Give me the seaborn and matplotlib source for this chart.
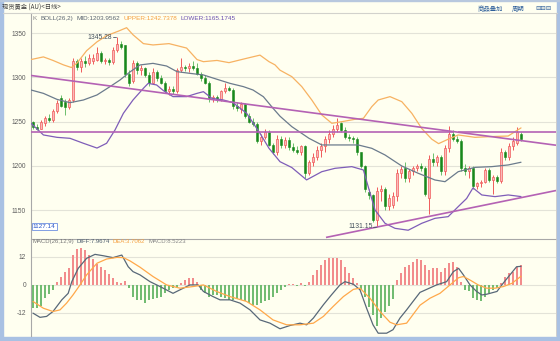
import numpy as np
import matplotlib
matplotlib.use("Agg")
import matplotlib.pyplot as plt
import seaborn as sns
from matplotlib.patches import Rectangle
from matplotlib.lines import Line2D

# ---- daily candles: open / high / low / close ----
opens = [1249, 1244, 1242, 1248, 1254, 1252, 1262, 1276, 1272, 1266,
         1274, 1318, 1312, 1318, 1316, 1318, 1320, 1327, 1318, 1319,
         1317, 1331, 1338, 1336, 1304, 1296, 1316, 1308, 1310, 1303,
         1294, 1306, 1299, 1294, 1284, 1287, 1284, 1308, 1312, 1310,
         1313, 1311, 1304, 1299, 1294, 1276, 1278, 1275, 1284, 1288,
         1286, 1268, 1264, 1270, 1256, 1250, 1247, 1228, 1232, 1238,
         1224, 1215, 1230, 1224, 1229, 1221, 1218, 1216, 1222, 1192,
         1204, 1210, 1218, 1222, 1230, 1236, 1242, 1248, 1240, 1232,
         1231, 1230, 1215, 1200, 1170, 1167, 1139, 1172, 1174, 1154,
         1156, 1166, 1192, 1198, 1186, 1194, 1198, 1200, 1198, 1164,
         1208, 1204, 1210, 1194, 1220, 1236, 1230, 1228, 1197, 1194,
         1198, 1177, 1180, 1182, 1195, 1184, 1187, 1183, 1216, 1210,
         1222, 1226, 1236]
highs = [1251, 1247, 1252, 1256, 1258, 1264, 1274, 1280, 1275, 1276,
         1322, 1321, 1322, 1324, 1326, 1326, 1334, 1330, 1322, 1322,
         1334, 1345.28, 1341, 1337, 1308, 1320, 1318, 1314, 1312, 1306,
         1310, 1308, 1302, 1296, 1290, 1290, 1310, 1322, 1314, 1316,
         1318, 1316, 1306, 1302, 1296, 1280, 1280, 1286, 1293, 1290,
         1288, 1272, 1272, 1271, 1260, 1254, 1250, 1236, 1242, 1240,
         1226, 1235, 1234, 1232, 1233, 1226, 1222, 1224, 1224, 1206,
         1214, 1222, 1226, 1234, 1240, 1246, 1254, 1250, 1244, 1236,
         1234, 1232, 1216, 1201, 1174, 1168, 1176, 1178, 1176, 1168,
         1170, 1196, 1200, 1204, 1196, 1200, 1202, 1203, 1200, 1212,
         1214, 1212, 1212, 1224, 1245, 1240, 1234, 1230, 1202, 1200,
         1200, 1182, 1184, 1198, 1197, 1190, 1189, 1220, 1218, 1226,
         1232, 1244, 1238]
lows = [1241, 1240, 1241, 1245, 1250, 1250, 1260, 1266, 1257, 1264,
        1272, 1308, 1306, 1312, 1314, 1315, 1318, 1316, 1315, 1314,
        1315, 1329, 1332, 1300, 1290, 1293, 1304, 1302, 1300, 1290,
        1292, 1296, 1292, 1282, 1280, 1281, 1282, 1306, 1307, 1306,
        1308, 1302, 1296, 1292, 1272, 1272, 1272, 1273, 1282, 1284,
        1264, 1262, 1260, 1254, 1248, 1245, 1226, 1224, 1230, 1222,
        1213, 1212, 1220, 1220, 1218, 1215, 1213, 1212, 1186, 1190,
        1200, 1206, 1210, 1215, 1226, 1232, 1238, 1238, 1230, 1228,
        1226, 1212, 1198, 1170, 1162, 1136, 1131.15, 1160, 1150, 1150,
        1152, 1160, 1186, 1182, 1182, 1190, 1194, 1194, 1166, 1146,
        1200, 1200, 1190, 1190, 1216, 1228, 1226, 1194, 1190, 1186,
        1174, 1174, 1176, 1180, 1182, 1168, 1180, 1180, 1206, 1207,
        1218, 1224, 1228]
closes = [1244, 1242, 1250, 1254, 1252, 1262, 1271, 1268, 1266, 1274,
          1318, 1312, 1318, 1316, 1322, 1322, 1327, 1318, 1319, 1317,
          1331, 1338, 1334, 1304, 1294, 1316, 1308, 1310, 1303, 1294,
          1306, 1299, 1294, 1284, 1287, 1284, 1308, 1312, 1310, 1313,
          1310, 1304, 1299, 1294, 1276, 1278, 1275, 1284, 1288, 1286,
          1268, 1265, 1270, 1256, 1250, 1247, 1228, 1232, 1238, 1224,
          1215, 1230, 1224, 1229, 1221, 1218, 1216, 1222, 1192, 1204,
          1210, 1218, 1222, 1230, 1236, 1242, 1246, 1240, 1232, 1231,
          1230, 1215, 1200, 1174, 1167, 1139, 1172, 1174, 1154, 1164,
          1166, 1192, 1196, 1186, 1194, 1198, 1200, 1197, 1168, 1208,
          1204, 1210, 1194, 1220, 1236, 1230, 1228, 1197, 1194, 1198,
          1177, 1180, 1182, 1195, 1184, 1187, 1183, 1216, 1210, 1222,
          1228, 1238, 1230]

# ---- BOLL(26,2) bands, sampled along the candle index ----
upper_x = [-0.5, 2.6, 5, 7.6, 9.6, 11, 13.4, 16, 18.4, 21.3, 23.4, 25, 27.6,
           30, 34, 38.4, 41, 42.6, 46, 49, 53.4, 56.75, 59, 60.5, 61.75,
           64.7, 67.2, 69.7, 72.2, 74.7, 77.2, 80.5, 82.6, 84.7, 86.3,
           89.25, 92.2, 94.7, 97.2, 99.7, 101.4, 103.8, 106.3, 110.5,
           114.7, 118.8, 120.5, 122]
upper_y = [1320, 1323, 1319, 1314, 1311, 1316, 1330, 1340, 1347, 1352, 1356,
           1348, 1338, 1336.5, 1338, 1333, 1320, 1317.6, 1319, 1316.5,
           1321.4, 1325, 1317.6, 1314, 1308, 1300.7, 1289.4, 1274.3,
           1257.4, 1248, 1249.8, 1252.5, 1253.6, 1266.8, 1274.3, 1278.1,
           1272.4, 1259.3, 1242, 1230, 1225, 1230, 1234.8, 1232.1, 1233,
           1233.6, 1238.5, 1242.7378]
mid_x = [-0.5, 2.6, 6, 9.25, 12.6, 16, 19.25, 21.75, 24.25, 26.75, 30, 33.4,
         36, 39.25, 42.6, 46, 49.25, 52.6, 55, 57.6, 60, 61.75, 64.7, 69,
         72.2, 77.2, 81.3, 84.7, 88, 92.2, 96.3, 100.5, 103, 106.3, 110.5,
         114.7, 118.8, 122]
mid_y = [1285.6, 1281.8, 1275, 1271.3, 1274.3, 1280, 1289.4, 1296.9, 1306,
         1313.9, 1315.7, 1312.7, 1306.3, 1304.4, 1302.6, 1297.7, 1293.1,
         1289.4, 1285.6, 1278, 1265, 1256, 1244.2, 1231, 1223.5, 1223.5,
         1223.5, 1219.7, 1212.2, 1199.7, 1191.5, 1183.9, 1182, 1193.3,
         1198.2, 1199, 1200.9, 1203.9562]
lower_x = [-0.5, 2.6, 6, 9.25, 12.6, 16, 18.4, 20.5, 22.6, 25, 27.6, 28.8,
           30.9, 32.6, 35, 38.4, 41, 42.6, 44.7, 47.6, 50, 53.4, 56.75, 59,
           61.75, 64.7, 68.4, 72.2, 75.5, 79.7, 82.6, 83.8, 85.5, 88, 90.5,
           93.8, 97.2, 100.5, 103.8, 106.3, 108.4, 110, 112.2, 115.5,
           118.8, 122]
lower_y = [1248, 1234.8, 1232.1, 1231, 1225.4, 1220, 1225.4, 1240.4, 1259.3,
           1274.3, 1287.5, 1293.1, 1291.3, 1284.9, 1278.1, 1278.1, 1281.8,
           1283.7, 1276.2, 1274.3, 1271.3, 1259.3, 1236.7, 1219.7, 1204.6,
           1198, 1184, 1193.3, 1197.1, 1199, 1195.2, 1176.4, 1150, 1135,
           1129.3, 1127.14, 1135, 1140.6, 1142.5, 1153.8, 1163, 1175, 1167,
           1165.1, 1167, 1165.1745]

# ---- hand-drawn trend lines (index, price) ----
falling_line = [(-0.5, 1302.0), (130.75, 1223.2)]
level_line_a = [(-0.5, 1237.6), (105.0, 1237.6)]
level_line_b = [(106.2, 1237.6), (130.75, 1237.6)]
rising_line = [(73.25, 1119.0), (130.75, 1172.0)]

# ---- MACD(26,12,9) ----
macd_hist = [-9.7, -9.7, -9.0, -5.7, -4.0, -2.0, 1.4, 3.6, 5.7, 7.3,
             12.8, 15.5, 15.7, 15.0, 12.8, 11.0, 9.0, 7.8, 6.4, 4.5,
             3.0, 1.2, 1.0, 1.5, -1.4, -5.0, -6.4, -6.4, -7.8, -6.4,
             -6.0, -5.7, -5.0, -3.6, -2.1, -1.4, -0.7, 0.7, 2.1, 3.1,
             2.8, 1.4, -2.1, -3.6, -5.0, -4.3, -4.3, -5.0, -5.7, -6.4,
             -6.4, -6.0, -6.4, -7.1, -7.8, -8.5, -8.5, -7.8, -7.1, -6.4,
             -5.0, -3.6, -2.1, -1.0, 0.3, 0.5, -0.3, 0.8, -0.5, 1.4,
             4.3, 6.5, 8.5, 10.5, 11.4, 11.7, 11.7, 10.5, 7.5, 5.0,
             2.8, 0.7, -2.1, -5.0, -9.3, -13.0, -17.8, -14.2, -11.5, -9.0,
             -6.0, 2.0, 5.0, 7.5, 8.5, 10.0, 11.0, 10.7, 8.5, 6.4,
             7.1, 7.1, 5.7, 7.1, 9.3, 10.0, 7.8, 1.4, -2.1, -2.8,
             -5.7, -6.4, -7.1, -5.0, -3.6, -2.1, -1.4, 0.7, 3.6, 5.0,
             5.7, 7.8, 8.5223]
diff_x = [0, 1.75, 3.4, 5, 7.2, 8.8, 9.7, 11.3, 13.4, 15.5, 17.6, 20, 22.2,
          23.8, 25, 26.75, 29.25, 31.75, 35, 36.75, 39.25, 41.3, 42.6, 45,
          46.75, 49.25, 51.75, 54.25, 56.75, 59.25, 61.75, 64.25, 66.75,
          68.4, 70.1, 72.6, 74.6, 76.75, 78, 80.1, 81.75, 83.4, 85, 86.3,
          88.4, 90, 91.75, 93.4, 95, 96.75, 100.9, 103.4, 105.1, 106.4,
          107.6, 109.25, 110.9, 112.2, 113.4, 116, 117.2, 118.9, 120.9, 122]
diff_y = [-12.1, -13.9, -13.5, -11.4, -6.4, -3.6, 1.4, 7.1, 11.4, 13.1,
          12.5, 11.7, 12.8, 7.8, 5.7, 4.3, 1.4, -0.7, -3.6, -2.1, 0.0, 0.0,
          -2.8, -5.0, -6.4, -6.4, -7.8, -10.7, -15.0, -16.4, -18.8, -17.4,
          -16.4, -17.1, -14.2, -8.5, -4.3, 0.0, 1.4, 0.3, -2.1, -10.0,
          -17.1, -20.7, -20.7, -19.2, -14.2, -10.7, -7.1, -3.2, 0.0, 1.4,
          5.7, 7.1, 4.3, 0.0, -2.8, -4.3, -4.0, -2.8, 0.0, 3.6, 7.8, 7.9674]
dea_x = [0, 2.6, 5, 6.75, 8.4, 10, 11.75, 13.4, 16, 18.4, 21, 22.6, 24.25,
         26.75, 30, 33.4, 36.75, 40, 42.6, 45.9, 49.25, 53.4, 56.75, 60,
         63.4, 66.75, 70.1, 72.6, 75, 77.6, 80.1, 81.75, 84.25, 86.75,
         89.25, 90.9, 93.4, 96.75, 99.25, 101.75, 104.25, 106.4, 107.6,
         109.25, 111.3, 113.4, 115.5, 117.6, 119.75, 122]
dea_y = [-7.1, -10.0, -11.4, -10.7, -7.8, -4.3, 0.0, 4.3, 9.3, 11.1, 11.8,
         11.7, 10.3, 7.6, 3.6, 0.0, -1.4, -0.7, 0.0, -2.8, -5.0, -7.1, -10.7,
         -15.0, -17.1, -17.1, -16.4, -13.5, -9.3, -5.0, -1.9, -1.4, -5.7,
         -11.4, -16.0, -17.1, -16.4, -8.7, -5.7, -3.6, 0.0, 3.1, 3.6, 2.1,
         0.0, -1.4, -1.4, -0.7, 0.7, 3.7062]

# ---- colours ----
BG = "#FFFFF0"
GRID = "#E3E3D8"
AXIS = "#A8A8A8"
FRAME = "#A9C1E3"
RED_EDGE = "#F05A5A"
RED_FILL = "#FAB9B9"
GREEN_BODY = "#18881C"
GREEN_WICK = "#6CC06C"
UP_C = "#F7B262"
MID_C = "#6B7B8C"
LOW_C = "#7E5DB8"
TREND_C = "#B462B4"
HIST_UP = "#F28C8C"
HIST_DN = "#72BC72"
DIFF_C = "#586878"
DEA_C = "#FFA84A"

sns.set_theme(style="white")
plt.rcParams["font.family"] = ["Liberation Sans", "Noto Sans CJK SC", "DejaVu Sans"]

W, H = 560, 341
fig = plt.figure(figsize=(W / 100, H / 100), dpi=100, facecolor=BG)


def fx(x):
    return x / W


def fy(y):
    return 1 - y / H


XL, XR = 31, 556
Y_TOP, Y_SPLIT, Y_BOT = 13, 238.5, 336

ax = fig.add_axes([fx(XL), fy(Y_SPLIT), fx(XR) - fx(XL), fy(Y_TOP) - fy(Y_SPLIT)])
axm = fig.add_axes([fx(XL), fy(Y_BOT), fx(XR) - fx(XL), fy(Y_SPLIT) - fy(Y_BOT)])

for a in (ax, axm):
    a.set_facecolor(BG)
    a.set_xlim(-0.5, 130.75)
    for s in a.spines.values():
        s.set_visible(False)
    a.spines["left"].set_visible(True)
    a.spines["left"].set_color(AXIS)
    a.spines["left"].set_linewidth(0.8)
    a.set_xticks([])
    a.tick_params(axis="y", length=0, pad=3.5, labelsize=4.8, labelcolor="#5E5E5E")
    a.grid(axis="y", color=GRID, linewidth=0.8)
    a.set_axisbelow(True)

ax.set_ylim(1117.8, 1372.6)
ax.set_yticks([1150, 1200, 1250, 1300, 1350])
axm.set_ylim(-21.9, 19.9)
axm.set_yticks([-12, 0, 12])
axm.set_yticklabels(["-12", "0", "12"])

# ---- candles ----
o = np.array(opens, float)
h = np.array(highs, float)
l = np.array(lows, float)
c = np.array(closes, float)
idx = np.arange(len(c))
up = c >= o
body = np.maximum(np.abs(c - o), 0.7)
bottom = np.minimum(o, c)

ax.vlines(idx[up], l[up], h[up], color=RED_EDGE, linewidth=0.7, zorder=3)
ax.vlines(idx[~up], l[~up], h[~up], color=GREEN_WICK, linewidth=0.7, zorder=3)
ax.bar(idx[up], body[up], bottom=bottom[up], width=0.7, color=RED_FILL,
       edgecolor=RED_EDGE, linewidth=0.5, zorder=3.2)
ax.bar(idx[~up], body[~up], bottom=bottom[~up], width=0.7, color=GREEN_BODY,
       edgecolor=GREEN_BODY, linewidth=0.4, zorder=3.2)

# ---- Bollinger bands ----
sns.lineplot(x=upper_x, y=upper_y, ax=ax, color=UP_C, linewidth=0.9, zorder=4)
sns.lineplot(x=mid_x, y=mid_y, ax=ax, color=MID_C, linewidth=0.9, zorder=4)
sns.lineplot(x=lower_x, y=lower_y, ax=ax, color=LOW_C, linewidth=0.9, zorder=4)

# ---- trend lines ----
for seg in (falling_line, level_line_a, level_line_b, rising_line):
    (x0, y0), (x1, y1) = seg
    ax.plot([x0, x1], [y0, y1], color=TREND_C, linewidth=1.2, zorder=5,
            solid_capstyle="butt")

# ---- extreme price labels ----
ih = int(np.argmax(h))
ax.plot([ih - 1.1, ih - 0.2], [h[ih], h[ih]], color="#4A5868", linewidth=0.6, zorder=6)
ax.text(ih - 1.35, h[ih], f"{h[ih]:.2f}", ha="right", va="center",
        fontsize=4.9, color="#44505C", zorder=6)
il = int(np.argmin(l))
ax.plot([il - 0.9, il - 0.25], [l[il], l[il]], color="#4A5868", linewidth=0.6, zorder=6)
ax.text(il - 1.1, l[il], f"{l[il]:.2f}", ha="right", va="center",
        fontsize=4.9, color="#44505C", zorder=6)

# ---- MACD panel ----
hist = np.array(macd_hist)
hidx = np.arange(len(hist))
axm.bar(hidx, hist, width=0.34, color=np.where(hist >= 0, HIST_UP, HIST_DN),
        linewidth=0, zorder=3)
sns.lineplot(x=diff_x, y=diff_y, ax=axm, color=DIFF_C, linewidth=0.9, zorder=4)
sns.lineplot(x=dea_x, y=dea_y, ax=axm, color=DEA_C, linewidth=0.9, zorder=4)
for a in (ax, axm):
    a.set_xlabel("")
    a.set_ylabel("")

# ---- window frame ----
frame_kw = dict(transform=fig.transFigure, color=FRAME, zorder=-5)
fig.patches.append(Rectangle((0, 0), fx(3), 1, **frame_kw))
fig.patches.append(Rectangle((fx(556.5), 0), 1 - fx(556.5), 1, **frame_kw))
fig.patches.append(Rectangle((0, 0), 1, fy(337), **frame_kw))
fig.patches.append(Rectangle((0, fy(1.2)), 1, 1 - fy(1.2), transform=fig.transFigure,
                             color="#B8C8DE", zorder=-5))
fig.lines.append(Line2D([fx(3), fx(556.5)], [fy(12.7), fy(12.7)], transform=fig.transFigure,
                        color="#D2D2CC", linewidth=0.8))
fig.lines.append(Line2D([fx(XL), fx(XR)], [fy(Y_SPLIT), fy(Y_SPLIT)], transform=fig.transFigure,
                        color=AXIS, linewidth=0.8))
fig.lines.append(Line2D([fx(XR), fx(XR)], [fy(Y_TOP), fy(Y_BOT)], transform=fig.transFigure,
                        color="#C8C8C8", linewidth=0.6))

# ---- header texts ----
fig.text(fx(2.5), fy(7.3), "现货黄金 (AU)<日线>", ha="left", va="center", fontsize=4.5,
         color="#404040", family=["Noto Sans CJK SC", "DejaVu Sans"])
for x, s in ((478, "商品叠加"), (511.5, "周期")):
    fig.text(fx(x), fy(9.0), s, ha="left", va="center", fontsize=4.6, color="#2D5E9A",
             family=["Noto Sans CJK SC", "DejaVu Sans"])
fig.text(fx(535), fy(9.0), "⊟⊟⊟", ha="left", va="center", fontsize=4.6, color="#2D5E9A",
         family=["DejaVu Sans"])

renderer = fig.canvas.get_renderer()


def text_run(x0, y, pieces, size, gap=3.0):
    """Lay out coloured text pieces one after another on a single row."""
    x = x0
    for s, col in pieces:
        t = fig.text(fx(x), fy(y), s, ha="left", va="center", fontsize=size, color=col)
        bb = t.get_window_extent(renderer=renderer)
        x += bb.width + gap


text_run(32.5, 18.3, [("K", "#888888"),
                      ("BOLL(26,2)", "#5A6470"),
                      ("MID:1203.9562", "#5A6470"),
                      ("UPPER:1242.7378", "#F5A040"),
                      ("LOWER:1165.1745", "#6A4FB0")], 4.6, gap=3.4)
text_run(32.5, 241.3, [("MACD(26,12,9)", "#777777"),
                       ("DIFF:7.9674", "#4E5E6E"),
                       ("DEA:3.7062", "#F5A040"),
                       ("MACD:8.5223", "#888888")], 4.3, gap=2.8)

# lower-bound value box
fig.text(fx(44.2), fy(226.7), "1127.14", ha="center", va="center", fontsize=4.6,
         color="#2A56C8",
         bbox=dict(boxstyle="square,pad=0.18", facecolor="white", edgecolor="#6E8FE0",
                   linewidth=0.6))

fig.savefig("out.png", dpi=100, facecolor=BG)
